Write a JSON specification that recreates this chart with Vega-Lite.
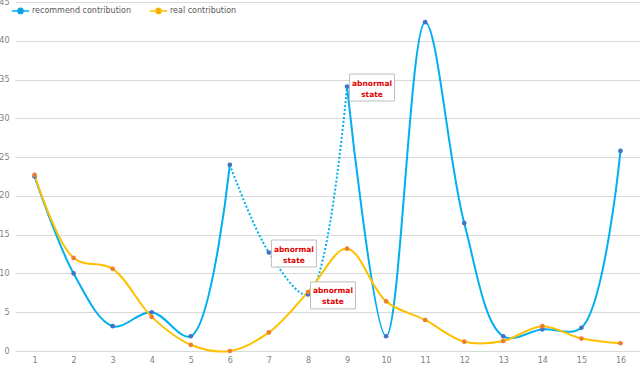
{
  "$schema": "https://vega.github.io/schema/vega-lite/v6.json",
  "width": 625,
  "height": 349,
  "autosize": {"type": "none"},
  "padding": {"left": 15, "top": 2, "right": 0, "bottom": 15},
  "background": "white",
  "config": {
    "view": {"stroke": null},
    "font": "DejaVu Sans",
    "axis": {"labelFont": "DejaVu Sans", "labelFontSize": 8, "labelColor": "#7f7f7f", "domain": false, "ticks": false, "title": null}
  },
  "datasets": {
    "main": [
      {"x": 1, "series": "recommend contribution", "value": 22.5},
      {"x": 2, "series": "recommend contribution", "value": 10.0},
      {"x": 3, "series": "recommend contribution", "value": 3.2},
      {"x": 4, "series": "recommend contribution", "value": 5.0},
      {"x": 5, "series": "recommend contribution", "value": 1.9},
      {"x": 6, "series": "recommend contribution", "value": 24.0},
      {"x": 7, "series": "recommend contribution", "value": 12.7},
      {"x": 8, "series": "recommend contribution", "value": 7.3},
      {"x": 9, "series": "recommend contribution", "value": 34.1},
      {"x": 10, "series": "recommend contribution", "value": 1.9},
      {"x": 11, "series": "recommend contribution", "value": 42.4},
      {"x": 12, "series": "recommend contribution", "value": 16.5},
      {"x": 13, "series": "recommend contribution", "value": 1.9},
      {"x": 14, "series": "recommend contribution", "value": 2.8},
      {"x": 15, "series": "recommend contribution", "value": 3.0},
      {"x": 16, "series": "recommend contribution", "value": 25.8},
      {"x": 1, "series": "real contribution", "value": 22.7},
      {"x": 2, "series": "real contribution", "value": 12.0},
      {"x": 3, "series": "real contribution", "value": 10.6},
      {"x": 4, "series": "real contribution", "value": 4.4},
      {"x": 5, "series": "real contribution", "value": 0.8},
      {"x": 6, "series": "real contribution", "value": 0.0},
      {"x": 7, "series": "real contribution", "value": 2.4},
      {"x": 8, "series": "real contribution", "value": 7.6},
      {"x": 9, "series": "real contribution", "value": 13.2},
      {"x": 10, "series": "real contribution", "value": 6.4},
      {"x": 11, "series": "real contribution", "value": 4.0},
      {"x": 12, "series": "real contribution", "value": 1.2},
      {"x": 13, "series": "real contribution", "value": 1.3},
      {"x": 14, "series": "real contribution", "value": 3.2},
      {"x": 15, "series": "real contribution", "value": 1.6},
      {"x": 16, "series": "real contribution", "value": 1.0}
    ],
    "notes": [
      {"x": 7, "value": 12.7, "label": "abnormal\nstate"},
      {"x": 8, "value": 7.3, "label": "abnormal\nstate"},
      {"x": 9, "value": 34.1, "label": "abnormal\nstate"}
    ]
  },
  "encoding": {
    "x": {"field": "x", "type": "ordinal", "scale": {"type": "point", "padding": 0.5}, "axis": {"labelAngle": 0, "grid": false, "labelPadding": 5}},
    "y": {"field": "value", "type": "quantitative", "scale": {"domain": [0, 45], "nice": false, "zero": true}, "axis": {"values": [0,5,10,15,20,25,30,35,40,45], "gridColor": "#d9d9d9", "labelPadding": 6}}
  },
  "layer": [
    {
      "data": {"name": "main"},
      "transform": [{"filter": "datum.series === 'recommend contribution' && datum.x <= 6"}],
      "mark": {"type": "line", "interpolate": "catmull-rom", "strokeWidth": 2},
      "encoding": {"color": {"field": "series", "type": "nominal", "scale": {"domain": ["recommend contribution", "real contribution"], "range": ["#00B0F0", "#FFC000"]},
        "legend": {"orient": "none", "legendX": -4, "legendY": -1, "direction": "horizontal", "title": null, "labelFontSize": 8, "labelColor": "#595959", "symbolType": "M-1,0H1M-0.3,0A0.3,0.3 0 1,1 0.3,0A0.3,0.3 0 1,1 -0.3,0", "symbolSize": 300, "symbolStrokeWidth": 1.5, "columnPadding": 14, "labelOffset": 2,
          "encode": {"symbols": {"update": {"fill": {"signal": "datum.value === 'real contribution' ? '#ED7D31' : '#4472C4'"}}}}}}}
    },
    {
      "data": {"name": "main"},
      "transform": [{"filter": "datum.series === 'recommend contribution' && datum.x >= 6 && datum.x <= 9"}],
      "mark": {"type": "line", "interpolate": "catmull-rom", "strokeWidth": 2, "strokeDash": [2, 2]},
      "encoding": {"color": {"field": "series", "type": "nominal"}}
    },
    {
      "data": {"name": "main"},
      "transform": [{"filter": "datum.series === 'recommend contribution' && datum.x >= 9"}],
      "mark": {"type": "line", "interpolate": "catmull-rom", "strokeWidth": 2},
      "encoding": {"color": {"field": "series", "type": "nominal"}}
    },
    {
      "data": {"name": "main"},
      "transform": [{"filter": "datum.series === 'real contribution'"}],
      "mark": {"type": "line", "interpolate": "catmull-rom", "strokeWidth": 2},
      "encoding": {"color": {"field": "series", "type": "nominal"}}
    },
    {
      "data": {"name": "main"},
      "mark": {"type": "point", "filled": true, "size": 22, "opacity": 1},
      "encoding": {"fill": {"field": "series", "type": "nominal", "scale": {"domain": ["recommend contribution", "real contribution"], "range": ["#4472C4", "#ED7D31"]}, "legend": null}}
    },
    {
      "data": {"name": "notes"},
      "mark": {"type": "point", "shape": "M-1,-0.6H1V0.6H-1Z", "size": 2025, "filled": true, "fill": "white", "stroke": "#BFBFBF", "strokeWidth": 1, "opacity": 1, "xOffset": 25, "yOffset": 1}
    },
    {
      "data": {"name": "notes"},
      "mark": {"type": "text", "lineBreak": "\n", "fontSize": 7.5, "fontWeight": "bold", "color": "#E00000", "xOffset": 25, "yOffset": -3, "baseline": "middle", "align": "center", "lineHeight": 11},
      "encoding": {"text": {"field": "label"}}
    }
  ]
}
